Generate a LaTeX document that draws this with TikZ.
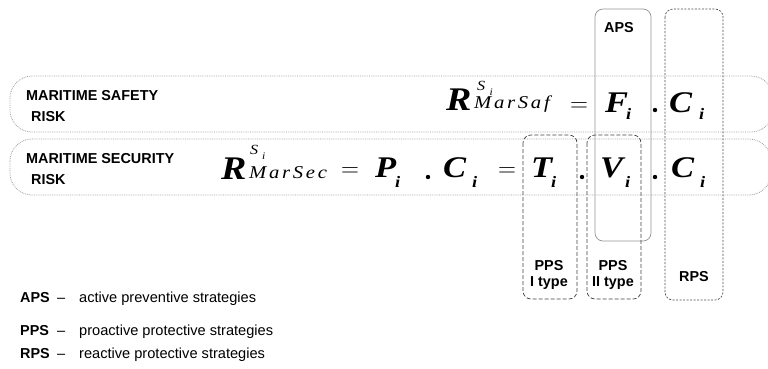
\documentclass[tikz,border=0pt]{standalone}
\usepackage[no-math]{fontspec}
\setmainfont{Liberation Sans}
\newfontfamily\eqfont{Liberation Serif}[FakeStretch=1.15]
\newfontfamily\idxfont{Liberation Serif}[FakeStretch=1.15,LetterSpace=15]

% fonts for the formulas
\newcommand\eqbigR{\eqfont\bfseries\itshape\fontsize{33}{33}\selectfont}
\newcommand\eqbigV{\eqfont\bfseries\itshape\fontsize{30}{30}\selectfont}
\newcommand\eqsubi{\eqfont\bfseries\itshape\fontsize{16}{16}\selectfont}
\newcommand\eqsupS{\eqfont\itshape\fontsize{14}{14}\selectfont}
\newcommand\eqsupi{\eqfont\itshape\fontsize{10}{10}\selectfont}
\newcommand\eqidx{\idxfont\itshape\fontsize{18}{18}\selectfont}
\newcommand\boldlab{\bfseries\fontsize{14.4}{16}\selectfont}
\newcommand\plaintxt{\fontsize{14.6}{16}\selectfont}

\begin{document}
\begin{tikzpicture}[x=1pt,y=-1pt,
  every node/.style={inner sep=0pt},
  eq/.style={anchor=base west},
  band/.style={draw=gray!75, densely dotted, line width=0.8pt, rounded corners=22pt},
  apsbox/.style={draw=gray!85, line width=0.7pt, rounded corners=8pt},
  ppsbox/.style={draw=black!75, dash pattern=on 4pt off 2pt, line width=0.7pt, rounded corners=8pt},
  rpsbox/.style={draw=black!70, dash pattern=on 2pt off 1.5pt, line width=0.7pt, rounded corners=8pt}]
\useasboundingbox (0,0) rectangle (768,368);
\clip (0,0) rectangle (768,368);

% the two risk bands
\draw[band] (10,76) rectangle (773,132);
\draw[band] (10,139) rectangle (771,195);

\node[eq] (saflab) at (26,100) {\boldlab MARITIME SAFETY};
\node[eq] (safrisk) at (31,121) {\boldlab RISK};
\node[eq] (seclab) at (26,163) {\boldlab MARITIME SECURITY};
\node[eq] (secrisk) at (31,184) {\boldlab RISK};

% strategy boxes
\draw[apsbox] (595,9) rectangle (651,241);
\draw[rpsbox] (665,9) rectangle (723,300);
\draw[ppsbox] (523,135) rectangle (577,299);
\draw[ppsbox] (587,135) rectangle (641,299);

\node (aps) at (619,27.5) {\boldlab APS};
\node (rps) at (694,277) {\boldlab RPS};
\node (ppsa) at (549,266) {\boldlab PPS};
\node (ppsatype) at (549,283) {\boldlab I type};
\node (ppsb) at (613,266) {\boldlab PPS};
\node (ppsbtype) at (613,283) {\boldlab II type};

% safety formula
\node[eq] (safR) at (446,110) {\eqbigR R};
\node[eq] (safS) at (477,90) {\eqsupS S};
\node[eq] (safSi) at (489.5,95) {\eqsupi i};
\node[eq] (safidx) at (474,108) {\eqidx MarSaf};
\node[eq] (safeq) at (570,111) {\fontsize{30}{30}\selectfont$=$};
\node[eq] (safF) at (605,112) {\eqbigV F};
\node[eq] (safFi) at (626,119) {\eqsubi i};
\fill (655,110) circle (2.2pt);
\node[eq] (safC) at (669,112) {\eqbigV C};
\node[eq] (safCi) at (699,119) {\eqsubi i};

% security formula
\node[eq] (secR) at (221,179) {\eqbigR R};
\node[eq] (secS) at (250,154) {\eqsupS S};
\node[eq] (secSi) at (262,159) {\eqsupi i};
\node[eq] (secidx) at (249,178) {\eqidx MarSec};
\node[eq] (seceqa) at (341,176) {\fontsize{30}{30}\selectfont$=$};
\node[eq] (secP) at (375,177) {\eqbigV P};
\node[eq] (secPi) at (395,187) {\eqsubi i};
\fill (428,177) circle (2.2pt);
\node[eq] (secCa) at (443,177) {\eqbigV C};
\node[eq] (secCai) at (472,187) {\eqsubi i};
\node[eq] (seceqb) at (498,176) {\fontsize{30}{30}\selectfont$=$};
\node[eq] (secT) at (531,177) {\eqbigV T};
\node[eq] (secTi) at (551,187) {\eqsubi i};
\fill (582,177) circle (2.2pt);
\node[eq] (secV) at (600,177) {\eqbigV V};
\node[eq] (secVi) at (625,187) {\eqsubi i};
\fill (655,177) circle (2.2pt);
\node[eq] (secCb) at (671,177) {\eqbigV C};
\node[eq] (secCbi) at (700,187) {\eqsubi i};

% legend
\foreach \key/\yy/\what in {APS/302/active preventive strategies,
    PPS/335/proactive protective strategies,
    RPS/358/reactive protective strategies} {
  \node[eq] (key\key) at (20,\yy) {\boldlab\key};
  \node[eq] (dash\key) at (57,\yy) {\plaintxt --};
  \node[eq] (txt\key) at (79,\yy) {\plaintxt\what};
}
\end{tikzpicture}
\end{document}
